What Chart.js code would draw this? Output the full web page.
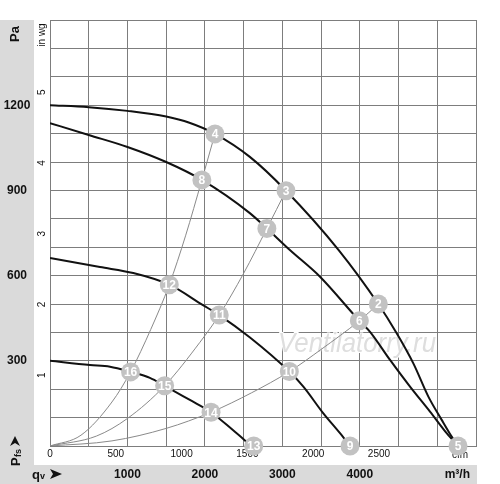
<!DOCTYPE html>
<html>
<head>
<meta charset="utf-8">
<script src="https://cdn.jsdelivr.net/npm/chart.js@4.4.1/dist/chart.umd.min.js"></script>
<style>
  body { margin: 0; background: #fff; }
  canvas { display: block; }
</style>
</head>
<body>
<canvas id="chart" width="500" height="484"></canvas>
<script>
// Fan curves, [flow m3/h, pressure Pa]
var curveTop = [[0, 1200], [500, 1193], [1000, 1180], [1500, 1160], [1800, 1138], [2130, 1099],
    [2580, 1018], [3047, 899], [3727, 690], [4239, 500], [4476, 397], [4691, 291], [4885, 174],
    [5057, 92], [5186, 33], [5268, 0]];
var curveSecond = [[0, 1137], [500, 1095], [1000, 1053], [1500, 1000], [1961, 937], [2580, 820],
    [2800, 766], [3097, 690], [3486, 596], [3994, 441], [4132, 402], [4390, 303], [4648, 209],
    [4906, 121], [5121, 45], [5268, 0]];
var curveThird = [[0, 662], [645, 630], [1075, 609], [1540, 568], [1975, 496], [2185, 461],
    [2582, 382], [3090, 262], [3271, 209], [3529, 115], [3744, 45], [3873, 0]];
var curveLow = [[0, 300], [516, 285], [775, 279], [1040, 261], [1290, 240], [1480, 212],
    [1806, 162], [2079, 119], [2361, 56], [2600, 0]];

// System curves (thin grey lines from the origin)
var systemSteep = [[0, 0], [400, 38], [800, 155], [1040, 261], [1300, 410], [1540, 568],
    [1750, 740], [1961, 937], [2130, 1099]];
var systemMid = [[0, 0], [600, 35], [1000, 97], [1480, 212], [1935, 365], [2185, 461],
    [2500, 608], [2800, 766], [3047, 899]];
var systemFlat = [[0, 0], [800, 18], [1500, 62], [2079, 119], [2600, 187], [3090, 262],
    [3500, 340], [3994, 441], [4239, 500]];

// Numbered operating points
var pointLabels = ['4', '3', '2', '5', '8', '7', '6', '12', '11', '10', '9', '16', '15', '14', '13'];
var pointFlow = [2130, 3047, 4239, 5268, 1961, 2800, 3994, 1540, 2185, 3090, 3873, 1040, 1480, 2079, 2630];
var pointPress = [1099, 899, 500, 0, 937, 766, 441, 568, 461, 262, 0, 261, 212, 119, 0];

// Axis labels
var flowTicks = [1000, 2000, 3000, 4000];
var cfmTicks = [0, 500, 1000, 1500, 2000, 2500];
var paTicks = [300, 600, 900, 1200];
var inwgTicks = [1, 2, 3, 4, 5];

var CFM = 1.699;   // m3/h per cfm
var INWG = 249.09; // Pa per in wg
var FONT = '"Liberation Sans", Arial, sans-serif';

function toXY(arr) {
    return arr.map(function (p) { return { x: p[0], y: p[1] }; });
}

var points = pointFlow.map(function (q, i) { return { x: q, y: pointPress[i] }; });

function fanLine(data) {
    return {
        data: toXY(data), showLine: true, borderColor: '#111', borderWidth: 2,
        pointRadius: 0, cubicInterpolationMode: 'monotone', fill: false
    };
}
function sysLine(data) {
    return {
        data: toXY(data), showLine: true, borderColor: '#8a8a8a', borderWidth: 1,
        pointRadius: 0, cubicInterpolationMode: 'monotone', fill: false
    };
}

function arrowHead(ctx, pts) {
    ctx.beginPath();
    ctx.moveTo(pts[0][0], pts[0][1]);
    for (var i = 1; i < pts.length; i++) ctx.lineTo(pts[i][0], pts[i][1]);
    ctx.closePath();
    ctx.fill();
}

var decor = {
    id: 'decor',
    beforeDraw: function (chart) {
        var ctx = chart.ctx;
        ctx.save();
        ctx.fillStyle = '#fff';
        ctx.fillRect(0, 0, chart.width, chart.height);
        ctx.fillStyle = '#dadada';
        ctx.fillRect(0, 20, 34, chart.height - 20);
        ctx.fillRect(0, 465, 477, chart.height - 465);
        ctx.restore();
    },
    beforeDatasetsDraw: function (chart) {
        var ctx = chart.ctx;
        var xs = chart.scales.x, ys = chart.scales.y;
        ctx.save();

        // watermark
        ctx.font = 'italic 28px ' + FONT;
        ctx.textAlign = 'center';
        ctx.textBaseline = 'alphabetic';
        ctx.lineWidth = 2;
        ctx.strokeStyle = '#fff';
        ctx.strokeText('Ventilatorry.ru', 357, 352, 158);
        ctx.fillStyle = '#dedede';
        ctx.fillText('Ventilatorry.ru', 357, 352, 158);

        ctx.fillStyle = '#111';
        // Pa ticks
        ctx.font = 'bold 12px ' + FONT;
        ctx.textAlign = 'center';
        ctx.textBaseline = 'middle';
        paTicks.forEach(function (v) {
            ctx.fillText(String(v), 17, ys.getPixelForValue(v));
        });
        // m3/h ticks
        flowTicks.forEach(function (v) {
            ctx.fillText(String(v), xs.getPixelForValue(v), 475);
        });
        ctx.textAlign = 'right';
        ctx.fillText('m³/h', 470, 475);

        // cfm ticks
        ctx.font = '10px ' + FONT;
        ctx.textAlign = 'center';
        cfmTicks.forEach(function (v) {
            ctx.fillText(String(v), xs.getPixelForValue(v * CFM), 454);
        });
        ctx.fillText('cfm', 460, 455);

        // in wg ticks (rotated)
        inwgTicks.forEach(function (v) {
            ctx.save();
            ctx.translate(42, ys.getPixelForValue(v * INWG));
            ctx.rotate(-Math.PI / 2);
            ctx.fillText(String(v), 0, 0);
            ctx.restore();
        });
        ctx.save();
        ctx.translate(42, 35);
        ctx.rotate(-Math.PI / 2);
        ctx.fillText('in wg', 0, 0);
        ctx.restore();

        // Pa title
        ctx.save();
        ctx.translate(15, 34);
        ctx.rotate(-Math.PI / 2);
        ctx.font = 'bold 13px ' + FONT;
        ctx.fillText('Pa', 0, 0);
        ctx.restore();

        // P fs with arrow
        ctx.save();
        ctx.translate(20, 466);
        ctx.rotate(-Math.PI / 2);
        ctx.textAlign = 'left';
        ctx.textBaseline = 'alphabetic';
        ctx.font = 'bold 13px ' + FONT;
        ctx.fillText('P', 0, 0);
        ctx.font = 'bold 9px ' + FONT;
        ctx.fillText('fs', 9, 1);
        ctx.restore();
        arrowHead(ctx, [[10, 446], [15, 436], [20, 446], [15, 443]]);

        // q v with arrow
        ctx.textAlign = 'left';
        ctx.textBaseline = 'alphabetic';
        ctx.font = 'bold 13px ' + FONT;
        ctx.fillText('q', 32, 479);
        ctx.font = 'bold 9px ' + FONT;
        ctx.fillText('v', 40, 479);
        arrowHead(ctx, [[50, 469], [62, 474], [50, 479], [53, 474]]);

        ctx.restore();
    },
    afterDatasetsDraw: function (chart) {
        var ctx = chart.ctx;
        var meta = chart.getDatasetMeta(0);
        ctx.save();
        ctx.fillStyle = '#fff';
        ctx.font = 'bold 12px ' + FONT;
        ctx.textAlign = 'center';
        ctx.textBaseline = 'middle';
        meta.data.forEach(function (el, i) {
            ctx.fillText(pointLabels[i], el.x, el.y + 1);
        });
        ctx.restore();
    }
};

var ctx = document.getElementById('chart').getContext('2d');
var chart = new Chart(ctx, {
    type: 'scatter',
    data: {
        datasets: [
            {
                data: points, showLine: false, pointRadius: 9.5, pointHoverRadius: 9.5,
                backgroundColor: '#c2c2c2', borderWidth: 0, clip: false
            },
            fanLine(curveTop),
            fanLine(curveSecond),
            fanLine(curveThird),
            fanLine(curveLow),
            sysLine(systemSteep),
            sysLine(systemMid),
            sysLine(systemFlat)
        ]
    },
    options: {
        responsive: false,
        animation: false,
        events: [],
        layout: { padding: { left: 50, top: 20, right: 24, bottom: 38 } },
        plugins: { legend: { display: false }, tooltip: { enabled: false } },
        scales: {
            x: {
                type: 'linear', min: 0, max: 5500,
                ticks: { display: false, stepSize: 500 },
                grid: { color: '#7d7d7d', lineWidth: 1, drawTicks: false },
                border: { display: true, color: '#7d7d7d' }
            },
            y: {
                type: 'linear', min: 0, max: 1500,
                ticks: { display: false, stepSize: 100 },
                grid: { color: '#7d7d7d', lineWidth: 1, drawTicks: false },
                border: { display: true, color: '#7d7d7d' }
            }
        }
    },
    plugins: [decor]
});
</script>
</body>
</html>
